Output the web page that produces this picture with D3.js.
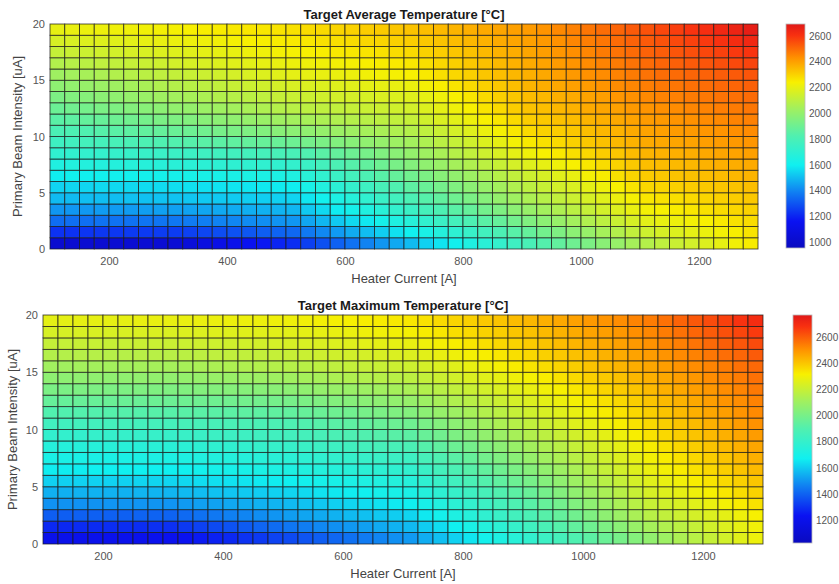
<!DOCTYPE html>
<html>
<head>
<meta charset="utf-8">
<script src="https://cdn.jsdelivr.net/npm/d3@7"></script>
<style>
  body { margin: 0; background: #fff; }
  svg { font-family: "Liberation Sans", Arial, Helvetica, sans-serif; }
  .tick text { fill: #555; }
</style>
</head>
<body>
<svg width="839" height="584"></svg>
<script>
// heater current edges [A] and beam intensity edges [uA]
var currents = [100,125,150,175,200,225,250,275,300,325,350,375,400,425,450,475,500,525,550,575,600,625,650,675,700,
                725,750,775,800,825,850,875,900,925,950,975,1000,1025,1050,1075,1100,1125,1150,1175,1200,1225,1250,1275,1300];
var beams = [0,1,2,3,4,5,6,7,8,9,10,11,12,13,14,15,16,17,18,19,20];

var xTicks = [200,400,600,800,1000,1200];
var yTicks = [0,5,10,15,20];
var cbTicksAvg = [1000,1200,1400,1600,1800,2000,2200,2400,2600];
var cbTicksMax = [1200,1400,1600,1800,2000,2200,2400,2600];
var cLimAvg = [955, 2693];
var cLimMax = [1024, 2771];

// colormap
var cmapPos = [0, 0.12, 0.25, 0.37, 0.5, 0.62, 0.74, 0.85, 0.95, 1];
var cmapColors = ["#0a0ac0","#0a12f2","#1080f2","#10f0f0","#50f0b0","#a0f060","#f8f000","#ff9000","#f83010","#e01818"];

// Target Average Temperature [°C], rows = beam 0..19, cols = current 100..1275
var avgTemp = [
[1020,1020,1025,1025,1030,1030,1035,1035,1040,1060,1085,1110,1130,1155,1175,1200,1220,1255,1290,1325,1360,1395,1430,1465,1500,1540,1575,1610,1650,1690,1725,1760,1800,1835,1870,1905,1940,1975,2010,2045,2080,2105,2130,2150,2175,2200,2225,2250],
[1230,1230,1235,1240,1240,1245,1245,1250,1250,1260,1270,1285,1295,1305,1320,1330,1340,1375,1405,1440,1470,1505,1535,1570,1600,1635,1670,1705,1740,1775,1810,1845,1880,1915,1945,1980,2010,2045,2075,2110,2140,2160,2175,2195,2210,2230,2245,2265],
[1350,1355,1355,1360,1360,1360,1365,1365,1370,1380,1385,1395,1400,1410,1415,1425,1430,1460,1490,1525,1555,1585,1620,1650,1680,1715,1750,1780,1815,1850,1880,1915,1950,1980,2010,2040,2070,2100,2130,2160,2190,2205,2215,2230,2240,2255,2270,2280],
[1430,1430,1435,1440,1440,1440,1445,1450,1450,1455,1460,1465,1470,1475,1480,1485,1490,1525,1555,1590,1620,1655,1685,1720,1750,1785,1815,1850,1880,1915,1945,1980,2010,2040,2065,2095,2120,2150,2175,2205,2230,2240,2250,2260,2270,2280,2290,2300],
[1500,1500,1505,1505,1505,1510,1510,1515,1515,1520,1525,1525,1530,1535,1535,1540,1545,1580,1610,1645,1675,1710,1745,1775,1810,1840,1870,1905,1935,1965,2000,2030,2060,2085,2110,2135,2160,2185,2210,2235,2260,2270,2275,2285,2295,2305,2310,2320],
[1545,1550,1550,1555,1555,1555,1560,1560,1565,1570,1570,1575,1580,1580,1585,1590,1595,1630,1660,1695,1725,1760,1795,1825,1860,1890,1920,1950,1980,2010,2040,2070,2100,2125,2150,2170,2195,2220,2240,2265,2290,2295,2305,2310,2320,2325,2330,2340],
[1595,1600,1600,1605,1610,1610,1615,1615,1620,1625,1630,1630,1635,1640,1640,1645,1650,1685,1715,1750,1780,1815,1845,1880,1910,1940,1970,1995,2025,2055,2085,2110,2140,2160,2185,2205,2230,2250,2270,2295,2315,2320,2330,2335,2340,2345,2355,2360],
[1655,1660,1665,1665,1670,1675,1675,1680,1685,1690,1695,1700,1705,1710,1710,1715,1720,1750,1780,1810,1840,1870,1900,1930,1960,1990,2015,2045,2070,2100,2125,2155,2180,2200,2220,2240,2260,2280,2300,2320,2340,2345,2350,2355,2365,2370,2375,2380],
[1710,1715,1720,1725,1730,1735,1740,1745,1750,1755,1765,1770,1775,1780,1790,1795,1800,1825,1850,1875,1900,1925,1950,1975,2000,2030,2055,2085,2110,2140,2165,2195,2220,2240,2255,2275,2290,2310,2325,2345,2360,2365,2370,2375,2385,2390,2395,2400],
[1760,1770,1780,1785,1795,1805,1815,1820,1830,1840,1850,1855,1865,1875,1885,1890,1900,1920,1935,1955,1970,1990,2005,2025,2040,2065,2095,2120,2145,2175,2200,2230,2255,2270,2285,2305,2320,2335,2350,2365,2380,2385,2390,2395,2405,2410,2415,2420],
[1805,1815,1825,1840,1850,1860,1870,1880,1890,1900,1910,1925,1935,1945,1955,1970,1980,1990,2005,2020,2030,2045,2055,2070,2080,2105,2130,2155,2180,2210,2235,2260,2285,2300,2310,2325,2340,2355,2365,2380,2395,2400,2410,2415,2420,2425,2435,2440],
[1850,1860,1875,1885,1900,1910,1920,1935,1945,1955,1970,1980,1990,2005,2015,2030,2040,2050,2060,2070,2080,2090,2100,2110,2120,2145,2170,2190,2215,2240,2260,2285,2310,2320,2335,2345,2360,2370,2385,2395,2410,2415,2425,2430,2440,2445,2455,2460],
[1895,1910,1920,1935,1945,1960,1970,1980,1995,2005,2020,2030,2040,2055,2065,2080,2090,2100,2105,2110,2120,2130,2135,2145,2150,2175,2195,2220,2240,2265,2285,2310,2330,2340,2355,2365,2380,2390,2400,2415,2425,2435,2440,2450,2455,2465,2470,2480],
[1940,1955,1965,1980,1990,2005,2015,2030,2040,2050,2060,2075,2085,2095,2105,2120,2130,2135,2145,2150,2155,2160,2170,2175,2180,2200,2220,2240,2260,2285,2305,2325,2345,2355,2370,2380,2395,2405,2420,2430,2445,2455,2460,2470,2475,2485,2490,2500],
[1985,1995,2010,2020,2030,2045,2055,2070,2080,2090,2100,2110,2125,2135,2145,2155,2165,2170,2175,2180,2185,2195,2200,2205,2210,2230,2245,2265,2285,2305,2320,2340,2360,2375,2385,2400,2410,2425,2440,2450,2465,2475,2480,2490,2495,2505,2510,2520],
[2030,2040,2050,2060,2075,2085,2095,2105,2115,2125,2135,2145,2155,2165,2175,2185,2195,2200,2205,2210,2215,2225,2230,2235,2240,2255,2275,2290,2305,2325,2340,2355,2370,2385,2400,2415,2430,2440,2455,2470,2485,2495,2500,2510,2515,2525,2530,2540],
[2075,2085,2095,2105,2110,2120,2130,2140,2150,2160,2165,2175,2185,2190,2200,2205,2215,2220,2225,2230,2235,2245,2250,2255,2260,2275,2290,2305,2320,2335,2350,2365,2380,2395,2410,2425,2440,2455,2470,2485,2500,2510,2520,2530,2540,2550,2560,2570],
[2120,2130,2135,2145,2150,2160,2165,2175,2180,2185,2195,2200,2205,2215,2220,2230,2235,2240,2245,2255,2260,2265,2270,2280,2285,2300,2310,2325,2335,2350,2365,2375,2390,2405,2420,2435,2450,2470,2485,2500,2515,2525,2540,2550,2565,2575,2590,2600],
[2160,2165,2175,2180,2185,2190,2200,2205,2210,2215,2220,2225,2235,2240,2245,2250,2255,2260,2270,2275,2280,2290,2295,2305,2310,2320,2330,2345,2355,2365,2380,2390,2400,2415,2430,2450,2465,2480,2500,2515,2530,2545,2560,2575,2590,2605,2620,2635],
[2200,2205,2210,2215,2220,2220,2225,2230,2235,2240,2245,2250,2255,2260,2260,2265,2270,2280,2285,2295,2300,2310,2315,2325,2330,2340,2350,2360,2370,2380,2390,2400,2410,2425,2445,2460,2480,2495,2510,2530,2545,2565,2580,2600,2615,2635,2650,2670]
];

// Target Maximum Temperature [°C]
var maxTemp = [
[1200,1200,1205,1205,1210,1210,1210,1215,1215,1230,1250,1265,1280,1300,1315,1335,1350,1370,1390,1410,1430,1450,1470,1490,1510,1545,1580,1615,1650,1685,1720,1755,1790,1825,1860,1895,1930,1965,2000,2035,2070,2100,2135,2165,2195,2225,2260,2290],
[1280,1280,1285,1285,1290,1290,1290,1295,1295,1315,1330,1350,1365,1385,1405,1420,1440,1455,1475,1490,1505,1520,1540,1555,1570,1605,1635,1670,1705,1740,1770,1805,1840,1875,1910,1945,1980,2015,2050,2085,2120,2145,2170,2195,2225,2250,2275,2300],
[1390,1390,1395,1395,1395,1395,1400,1400,1400,1415,1430,1445,1460,1470,1485,1500,1515,1530,1540,1555,1570,1580,1595,1605,1620,1655,1685,1720,1750,1785,1815,1850,1880,1915,1950,1985,2020,2060,2095,2130,2165,2185,2210,2230,2250,2270,2295,2315],
[1495,1495,1495,1495,1500,1500,1500,1500,1500,1510,1520,1525,1535,1545,1555,1560,1570,1585,1595,1610,1620,1635,1645,1660,1670,1700,1735,1765,1795,1825,1860,1890,1920,1955,1990,2025,2060,2095,2130,2165,2200,2220,2240,2260,2285,2305,2325,2345],
[1550,1550,1555,1555,1555,1555,1560,1560,1560,1570,1575,1585,1590,1600,1605,1615,1620,1630,1645,1655,1665,1675,1690,1700,1710,1740,1775,1805,1835,1865,1900,1930,1960,1995,2030,2065,2100,2130,2165,2200,2235,2255,2275,2295,2315,2335,2355,2375],
[1610,1610,1615,1615,1615,1615,1620,1620,1620,1625,1635,1640,1645,1650,1660,1665,1670,1680,1690,1700,1710,1720,1730,1740,1750,1780,1815,1845,1875,1905,1940,1970,2000,2035,2065,2100,2130,2165,2195,2230,2260,2280,2300,2320,2340,2360,2380,2400],
[1665,1665,1665,1670,1670,1670,1670,1670,1670,1675,1685,1690,1695,1700,1710,1715,1720,1730,1740,1745,1755,1765,1775,1780,1790,1820,1855,1885,1915,1945,1980,2010,2040,2070,2100,2130,2165,2195,2225,2255,2285,2305,2325,2345,2365,2385,2405,2425],
[1705,1705,1710,1710,1710,1710,1715,1715,1715,1720,1730,1735,1740,1745,1755,1760,1765,1775,1785,1790,1800,1810,1820,1825,1835,1865,1895,1925,1955,1990,2020,2050,2080,2110,2135,2165,2190,2220,2250,2275,2305,2325,2345,2365,2385,2405,2425,2445],
[1745,1745,1750,1750,1755,1755,1755,1760,1760,1765,1775,1780,1785,1790,1800,1805,1810,1820,1830,1835,1845,1855,1865,1870,1880,1910,1940,1970,1995,2025,2055,2085,2115,2140,2165,2195,2220,2245,2270,2300,2325,2345,2365,2385,2405,2425,2445,2465],
[1790,1795,1795,1800,1800,1805,1805,1810,1810,1815,1820,1825,1830,1835,1840,1845,1850,1860,1870,1880,1890,1900,1910,1920,1930,1960,1985,2015,2040,2070,2095,2125,2150,2175,2200,2225,2250,2270,2295,2320,2345,2365,2385,2405,2425,2445,2465,2485],
[1845,1845,1850,1850,1855,1855,1855,1860,1860,1865,1870,1870,1875,1880,1880,1885,1890,1900,1915,1925,1935,1945,1960,1970,1980,2005,2030,2055,2080,2110,2135,2160,2185,2210,2230,2255,2275,2300,2320,2345,2365,2385,2405,2425,2445,2465,2485,2505],
[1900,1900,1905,1905,1910,1910,1910,1915,1915,1920,1925,1925,1930,1935,1935,1940,1945,1955,1965,1975,1985,2000,2010,2020,2030,2055,2080,2100,2125,2150,2170,2195,2220,2240,2260,2280,2300,2325,2345,2365,2385,2405,2425,2445,2465,2480,2500,2520],
[1955,1955,1960,1960,1965,1965,1965,1970,1970,1975,1980,1980,1985,1990,1990,1995,2000,2010,2020,2030,2040,2050,2060,2070,2080,2100,2125,2145,2165,2185,2210,2230,2250,2270,2290,2310,2330,2345,2365,2385,2405,2425,2440,2460,2480,2500,2515,2535],
[2010,2010,2015,2015,2015,2015,2020,2020,2020,2025,2030,2035,2040,2040,2045,2050,2055,2065,2075,2085,2090,2100,2110,2120,2130,2150,2165,2185,2205,2225,2245,2260,2280,2300,2315,2335,2355,2370,2390,2405,2425,2445,2460,2480,2495,2515,2530,2550],
[2060,2060,2065,2065,2065,2065,2070,2070,2070,2075,2080,2085,2090,2095,2100,2105,2110,2120,2125,2135,2145,2150,2160,2165,2175,2190,2210,2225,2245,2260,2275,2295,2310,2325,2345,2360,2380,2395,2410,2430,2445,2460,2480,2495,2515,2530,2545,2565],
[2110,2110,2115,2115,2115,2115,2120,2120,2120,2125,2130,2135,2140,2145,2150,2155,2160,2165,2175,2180,2190,2195,2200,2210,2215,2230,2245,2260,2280,2295,2310,2325,2340,2355,2370,2385,2405,2420,2435,2450,2465,2480,2500,2515,2530,2545,2565,2580],
[2155,2155,2160,2160,2160,2160,2165,2165,2165,2170,2175,2180,2185,2185,2190,2195,2200,2205,2215,2220,2225,2230,2240,2245,2250,2265,2280,2295,2310,2320,2335,2350,2365,2380,2395,2410,2425,2440,2455,2470,2485,2500,2520,2535,2555,2570,2585,2605],
[2195,2195,2200,2200,2200,2200,2205,2205,2205,2210,2215,2215,2220,2225,2225,2230,2235,2240,2245,2250,2255,2265,2270,2275,2280,2295,2310,2320,2335,2350,2365,2375,2390,2405,2420,2435,2450,2460,2475,2490,2505,2525,2540,2560,2580,2600,2615,2635],
[2235,2235,2240,2240,2240,2240,2245,2245,2245,2250,2250,2255,2255,2260,2260,2265,2265,2270,2275,2280,2285,2295,2300,2305,2310,2325,2335,2350,2360,2375,2385,2400,2410,2425,2440,2455,2470,2480,2495,2510,2525,2545,2565,2585,2605,2625,2645,2665],
[2270,2270,2275,2275,2275,2275,2280,2280,2280,2280,2285,2285,2290,2290,2290,2295,2295,2300,2305,2310,2315,2320,2325,2330,2335,2345,2360,2370,2380,2395,2405,2420,2430,2445,2460,2475,2490,2500,2515,2530,2545,2565,2590,2610,2635,2655,2680,2700]
];

var svg = d3.select("svg");
var defs = svg.append("defs");

function makeColor(lim) {
  return d3.scaleLinear()
    .domain(cmapPos.map(function(p) { return lim[0] + p * (lim[1] - lim[0]); }))
    .range(cmapColors)
    .clamp(true);
}

function drawPanel(opt) {
  var x = d3.scaleLinear().domain([100, 1300]).range([opt.left, opt.right]);
  var y = d3.scaleLinear().domain([0, 20]).range([opt.bottom, opt.top]);
  var color = makeColor(opt.clim);
  var g = svg.append("g");

  var cells = [];
  opt.data.forEach(function(row, r) {
    row.forEach(function(v, c) { cells.push({r: r, c: c, v: v}); });
  });

  g.append("g")
    .selectAll("rect")
    .data(cells)
    .enter().append("rect")
      .attr("x", function(d) { return x(currents[d.c]); })
      .attr("y", function(d) { return y(beams[d.r + 1]); })
      .attr("width", function(d) { return x(currents[d.c + 1]) - x(currents[d.c]); })
      .attr("height", function(d) { return y(beams[d.r]) - y(beams[d.r + 1]); })
      .attr("fill", function(d) { return color(d.v); })
      .attr("stroke", "#1c1c1c")
      .attr("stroke-opacity", 0.8)
      .attr("stroke-width", 0.9);

  g.append("g")
    .attr("transform", "translate(0," + opt.bottom + ")")
    .call(d3.axisBottom(x).tickValues(xTicks).tickSize(0).tickPadding(8).tickFormat(d3.format("d")))
    .call(function(a) { a.select(".domain").remove(); })
    .selectAll("text").attr("font-size", 11);

  g.append("g")
    .attr("transform", "translate(" + opt.left + ",0)")
    .call(d3.axisLeft(y).tickValues(yTicks).tickSize(0).tickPadding(5))
    .call(function(a) { a.select(".domain").remove(); })
    .selectAll("text").attr("font-size", 11);

  g.append("text")
    .attr("x", (opt.left + opt.right) / 2)
    .attr("y", opt.top - 5)
    .attr("text-anchor", "middle")
    .attr("font-size", 13)
    .attr("font-weight", "bold")
    .attr("fill", "#1a1a1a")
    .text(opt.title);

  g.append("text")
    .attr("x", (opt.left + opt.right) / 2)
    .attr("y", opt.bottom + 34)
    .attr("text-anchor", "middle")
    .attr("font-size", 13)
    .attr("fill", "#444")
    .text("Heater Current [A]");

  g.append("text")
    .attr("transform", "translate(" + opt.ylabX + "," + (opt.top + opt.bottom) / 2 + ") rotate(-90)")
    .attr("text-anchor", "middle")
    .attr("font-size", 13)
    .attr("fill", "#444")
    .text("Primary Beam Intensity [uA]");

  // colour bar
  var grad = defs.append("linearGradient")
    .attr("id", opt.id)
    .attr("x1", 0).attr("y1", 1).attr("x2", 0).attr("y2", 0);
  grad.selectAll("stop")
    .data(cmapPos)
    .enter().append("stop")
      .attr("offset", function(d) { return d; })
      .attr("stop-color", function(d, i) { return cmapColors[i]; });

  var cy = d3.scaleLinear().domain(opt.clim).range([opt.cbBottom, opt.cbTop]);
  g.append("rect")
    .attr("x", opt.cbLeft)
    .attr("y", opt.cbTop)
    .attr("width", opt.cbWidth)
    .attr("height", opt.cbBottom - opt.cbTop)
    .attr("fill", "url(#" + opt.id + ")")
    .attr("stroke", "#bbb")
    .attr("stroke-width", 0.8);

  g.append("g")
    .attr("transform", "translate(" + (opt.cbLeft + opt.cbWidth) + ",0)")
    .call(d3.axisRight(cy).tickValues(opt.cbTicks).tickSize(0).tickPadding(4).tickFormat(d3.format("d")))
    .call(function(a) { a.select(".domain").remove(); })
    .selectAll("text").attr("font-size", 10);
}

drawPanel({
  id: "cbAvg", data: avgTemp, clim: cLimAvg, cbTicks: cbTicksAvg,
  title: "Target Average Temperature [\u00B0C]",
  left: 50, right: 758, top: 24, bottom: 249, ylabX: 22,
  cbLeft: 786, cbWidth: 19, cbTop: 24, cbBottom: 248
});

drawPanel({
  id: "cbMax", data: maxTemp, clim: cLimMax, cbTicks: cbTicksMax,
  title: "Target Maximum Temperature [\u00B0C]",
  left: 43, right: 763, top: 315, bottom: 544, ylabX: 17,
  cbLeft: 793, cbWidth: 19, cbTop: 315, cbBottom: 543
});
</script>
</body>
</html>
